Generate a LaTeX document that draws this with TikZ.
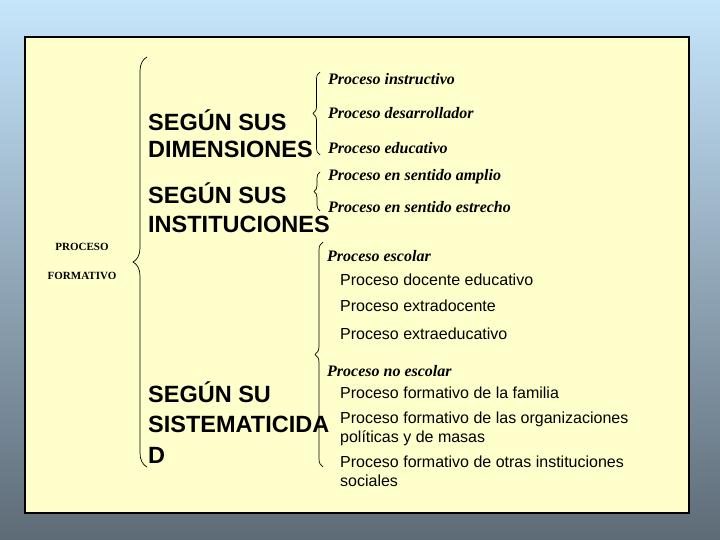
\documentclass[tikz,border=0pt]{standalone}
\usepackage{fontspec}
\setmainfont{Liberation Serif}
\newfontfamily\arialfont{Liberation Sans}
\usetikzlibrary{decorations.pathreplacing}
\definecolor{skytop}{RGB}{198,230,252}
\definecolor{skybottom}{RGB}{94,107,119}
\definecolor{paper}{RGB}{255,255,204}

\begin{document}
\begin{tikzpicture}[x=1pt,y=-1pt,
		bigtxt/.style={anchor=west, align=left, inner sep=0pt, font=\arialfont\bfseries\fontsize{23.5}{#1}\selectfont},
		itxt/.style={anchor=west, inner sep=0pt, font=\bfseries\itshape\fontsize{16}{19}\selectfont},
		ptxt/.style={anchor=west, align=left, inner sep=0pt, font=\arialfont\fontsize{16}{19}\selectfont},
		curly/.style={decorate, decoration={brace, amplitude=#1}, line width=0.7pt}]
	\useasboundingbox (0,0) rectangle (720,540);
	\shade [top color=skytop, bottom color=skybottom] (0,0) rectangle (720,540);
	\filldraw [fill=paper, draw=black, line width=1.2pt] (25,37) rectangle (689,513);
	% left title
	\node (proceso) [inner sep=0pt, font=\bfseries\fontsize{11}{12}\selectfont] at (82,247) {PROCESO};
	\node (formativo) [inner sep=0pt, font=\bfseries\fontsize{11}{12}\selectfont] at (82,276) {FORMATIVO};
	% main brace
	\draw [curly=14pt] (147,467) -- (147,57);
	% three criteria
	\node (dim) [bigtxt=27] at (148,134) {SEGÚN SUS\\DIMENSIONES};
	\node (inst) [bigtxt=29] at (148,208) {SEGÚN SUS\\INSTITUCIONES};
	\node (sist) [bigtxt=30.5] at (148,422.5) {SEGÚN SU\\SISTEMATICIDA\\D};
	% dimensions
	\draw [curly=7pt] (320,155) -- (320,72);
	\node (instr) [itxt] at (328,79) {Proceso instructivo};
	\node (desa) [itxt] at (328,113) {Proceso desarrollador};
	\node (educ) [itxt] at (328,148) {Proceso educativo};
	% institutions
	\draw [curly=6pt] (320,211) -- (320,172);
	\node (amplio) [itxt] at (328,177) {Proceso en sentido amplio};
	\node (estrecho) [itxt] at (328,207) {Proceso en sentido estrecho};
	% systematicity
	\draw [curly=8pt] (323,467) -- (323,242);
	\node (escolar) [itxt] at (327,256) {Proceso escolar};
	\node (docente) [ptxt] at (340,280) {Proceso docente educativo};
	\node (extradoc) [ptxt] at (340,306) {Proceso extradocente};
	\node (extraedu) [ptxt] at (340,334) {Proceso extraeducativo};
	\node (noescolar) [itxt] at (327,371) {Proceso no escolar};
	\node (familia) [ptxt] at (340,393) {Proceso formativo de la familia};
	\node (organiz) [ptxt] at (340,428.5) {Proceso formativo de las organizaciones\\políticas y de masas};
	\node (otras) [ptxt] at (340,471.5) {Proceso formativo de otras instituciones\\sociales};
\end{tikzpicture}
\end{document}
